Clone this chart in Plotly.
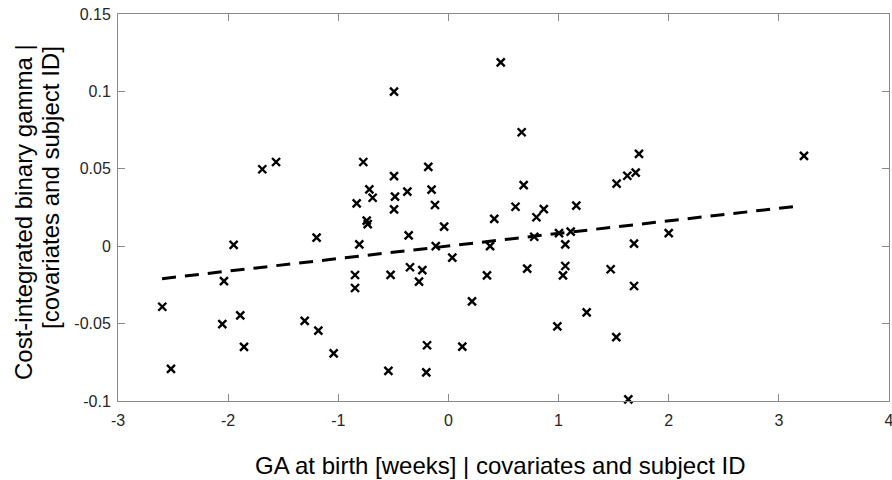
import numpy as np
import plotly.graph_objects as go

ga_x = [-1.690, -1.565, -0.773, -0.718, -0.688, -0.833, -0.494, 0.475, 0.665, 1.730,
        -0.183, -0.494, 1.700, 1.624, 1.527, 0.683, -0.153, -0.373, -0.485, -0.122,
        3.228, -2.598, -2.519, -1.950, -2.038, -2.053, -1.890, -1.856, -1.305, -1.197,
        -1.181, -1.042, -0.742, -0.733, -0.809, -0.848, -0.848, -0.545, -0.525, -0.494,
        0.609, 0.799, 0.866, 1.161, 0.416, -0.039, -0.361, -0.115, 0.378, 0.779,
        1.004, 1.110, 1.061, 1.685, 2.000, 0.035, -0.349, -0.237, -0.267, 0.350,
        0.715, 1.061, 1.040, 1.473, 1.685, 0.214, 1.255, 0.989, 1.524, -0.194,
        0.126, -0.201, 1.633]
gamma_y = [0.0497, 0.0544, 0.0544, 0.0367, 0.0313, 0.0277, 0.0998, 0.1188, 0.0736, 0.0596,
           0.0512, 0.0453, 0.0475, 0.0455, 0.0404, 0.0395, 0.0365, 0.0352, 0.0320, 0.0266,
           0.0583, -0.0391, -0.0793, 0.0008, -0.0225, -0.0503, -0.0447, -0.0651, -0.0483, 0.0055,
           -0.0546, -0.0692, 0.0165, 0.0143, 0.0012, -0.0186, -0.0270, -0.0805, -0.0185, 0.0238,
           0.0255, 0.0187, 0.0240, 0.0262, 0.0176, 0.0126, 0.0070, 0.0000, 0.0001, 0.0061,
           0.0085, 0.0094, 0.0012, 0.0016, 0.0085, -0.0074, -0.0136, -0.0154, -0.0229, -0.0188,
           -0.0145, -0.0128, -0.0188, -0.0149, -0.0257, -0.0356, -0.0427, -0.0518, -0.0587, -0.0640,
           -0.0649, -0.0815, -0.0989]

fit_slope = 0.00812
fit_intercept = 0.00014
fit_x = [-2.60, 3.19]
fit_y = [fit_intercept + fit_slope * v for v in fit_x]

x_ticks = [-3, -2, -1, 0, 1, 2, 3, 4]
y_ticks = [-0.1, -0.05, 0, 0.05, 0.1, 0.15]
y_tick_text = ["-0.1", "-0.05", "0", "0.05", "0.1", "0.15"]

x_title = "GA at birth [weeks] | covariates and subject ID"
y_title_lines = ["Cost-integrated binary gamma |", "[covariates and subject ID]"]

FONT = "Liberation Sans, Arial, Helvetica"

fig = go.Figure()
fig.add_trace(go.Scatter(
    x=ga_x, y=gamma_y, mode="markers",
    marker=dict(symbol="x-thin", size=8, line=dict(width=2.4, color="black"), color="black"),
    showlegend=False, hoverinfo="skip", cliponaxis=False))
fig.add_trace(go.Scatter(
    x=fit_x, y=fit_y, mode="lines",
    line=dict(color="black", width=3, dash="14px,9px"),
    showlegend=False, hoverinfo="skip"))

axis_common = dict(
    showgrid=False, zeroline=False, showline=True, mirror="ticks",
    linecolor="#8a8a8a", linewidth=1, ticks="inside", ticklen=7,
    tickcolor="#8a8a8a", tickwidth=1, ticklabeloverflow="allow", automargin=False,
    tickfont=dict(family=FONT, size=16, color="#262626"),
)

fig.update_xaxes(range=[-3, 4], tickvals=x_ticks, ticktext=[str(v) for v in x_ticks],
                 ticklabelstandoff=5, **axis_common)
fig.update_yaxes(range=[-0.1, 0.15], tickvals=y_ticks, ticktext=y_tick_text,
                 ticklabelstandoff=3, **axis_common)

# plot area: x 118..889, y 14..401
fig.update_layout(
    width=892, height=480,
    margin=dict(l=118, r=3, t=14, b=79, autoexpand=False),
    paper_bgcolor="white", plot_bgcolor="white",
    font=dict(family=FONT, color="#262626"),
    annotations=[
        dict(text=x_title,
             xref="paper", yref="paper", x=0.5, y=0, xanchor="center", yanchor="middle",
             xshift=-4, yshift=-64, showarrow=False,
             font=dict(family=FONT, size=24, color="black")),
        dict(text=y_title_lines[0],
             xref="paper", yref="paper", x=0, y=1, xanchor="center", yanchor="middle",
             xshift=-95, yshift=-(212 - 14), textangle=-90, showarrow=False,
             font=dict(family=FONT, size=24, color="black")),
        dict(text=y_title_lines[1],
             xref="paper", yref="paper", x=0, y=1, xanchor="center", yanchor="middle",
             xshift=-68, yshift=-(188 - 14), textangle=-90, showarrow=False,
             font=dict(family=FONT, size=24, color="black")),
    ],
)

fig.write_html("out.html")
